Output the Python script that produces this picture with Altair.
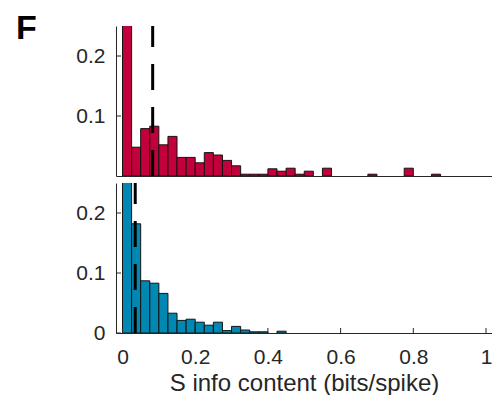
import altair as alt
import pandas as pd

# ---- data ----
BIN_WIDTH = 0.025
# T info content histogram (probability per 0.025 bin, first bin clipped at top)
T_VALUES = [0.38, 0.048, 0.079, 0.083, 0.052, 0.066, 0.031, 0.031, 0.022, 0.039,
            0.035, 0.026, 0.017, 0.003, 0.003, 0.003, 0.012, 0.008, 0.013, 0.003,
            0.008, 0.0, 0.013, 0.0, 0.0, 0.0, 0.0, 0.003, 0.0, 0.0,
            0.0, 0.013, 0.0, 0.0, 0.003]
# S info content histogram
S_VALUES = [0.43, 0.182, 0.087, 0.083, 0.066, 0.033, 0.021, 0.023, 0.018, 0.013,
            0.018, 0.004, 0.011, 0.005, 0.002, 0.002, 0.0, 0.003]
T_MEAN = 0.083
S_MEAN = 0.035
X_TICKS = [0, 0.2, 0.4, 0.6, 0.8, 1]
T_Y_TICKS = [0.1, 0.2]
S_Y_TICKS = [0, 0.1, 0.2]
X_TITLE = "S info content (bits/spike)"
PANEL_LABEL = "F"

# ---- styling ----
T_COLOR = "#C2003C"
S_COLOR = "#0088B2"
AX = "#262626"
FONT = "Liberation Sans"
W, H = 376, 150
X_DOMAIN = [-0.0179, 1.0165]
Y_DOMAIN = [0, 0.25]


def hist_df(values):
    rows = []
    for i, v in enumerate(values):
        if v > 0:
            rows.append({"start": i * BIN_WIDTH, "end": (i + 1) * BIN_WIDTH, "value": v})
    return pd.DataFrame(rows)


def panel(values, color, mean, yticks, bottom):
    xs = alt.Scale(domain=X_DOMAIN, nice=False, zero=False)
    ys = alt.Scale(domain=Y_DOMAIN, nice=False, zero=True)
    if bottom:
        xaxis = alt.Axis(values=X_TICKS, format=".1~f", ticks=False, grid=False,
                         labelPadding=30, labelBaseline="alphabetic",
                         title=X_TITLE, titleBaseline="alphabetic", titleY=57)
    else:
        xaxis = alt.Axis(labels=False, ticks=False, grid=False, title=None)
    yaxis = alt.Axis(values=yticks, format=".1~f", ticks=False, grid=False,
                     labelPadding=11, title=None)

    bars = alt.Chart(hist_df(values)).mark_bar(
        color=color, stroke="#141414", strokeWidth=1, clip=True
    ).encode(
        x=alt.X("start:Q", scale=xs, axis=xaxis),
        x2="end:Q",
        y=alt.Y("value:Q", scale=ys, axis=yaxis),
        y2=alt.datum(0),
    )
    ytk = alt.Chart(pd.DataFrame({"t": yticks})).mark_rule(color=AX, strokeWidth=1).encode(
        y=alt.Y("t:Q", scale=ys, axis=yaxis), x=alt.value(0), x2=alt.value(5)
    )
    layers = [bars, ytk]
    if bottom:
        xtk = alt.Chart(pd.DataFrame({"t": X_TICKS})).mark_rule(color=AX, strokeWidth=1).encode(
            x=alt.X("t:Q", scale=xs, axis=xaxis), y=alt.value(H), y2=alt.value(H - 5)
        )
        layers.append(xtk)
    mean_rule = alt.Chart(pd.DataFrame({"m": [mean]})).mark_rule(
        color="black", strokeWidth=3, strokeDash=[26, 17]
    ).encode(
        x=alt.X("m:Q", scale=xs, axis=xaxis), y=alt.value(H), y2=alt.value(0)
    )
    layers.append(mean_rule)
    if not bottom:
        lab = alt.Chart(pd.DataFrame({"l": [PANEL_LABEL]})).mark_text(
            fontSize=34, fontWeight="bold", align="left", baseline="alphabetic", color="black"
        ).encode(text="l:N", x=alt.value(-100), y=alt.value(13))
        layers.append(lab)
    return alt.layer(*layers).properties(width=W, height=H)


top = panel(T_VALUES, T_COLOR, T_MEAN, T_Y_TICKS, bottom=False)
bot = panel(S_VALUES, S_COLOR, S_MEAN, S_Y_TICKS, bottom=True)

chart = (
    alt.vconcat(top, bot, spacing=7, bounds="flush")
    .properties(padding={"left": 8, "top": 4, "right": 0, "bottom": 0})
    .configure(font=FONT)
    .configure_view(stroke=None)
    .configure_axis(
        domainColor=AX, domainWidth=1, labelColor=AX, labelFontSize=21, labelFont=FONT,
        titleColor=AX, titleFont=FONT, titleFontSize=24, titleFontWeight="normal",
        labelFlush=False, labelOverlap=False,
    )
)

chart.save("out.html", embed_options={"renderer": "svg", "actions": False})
